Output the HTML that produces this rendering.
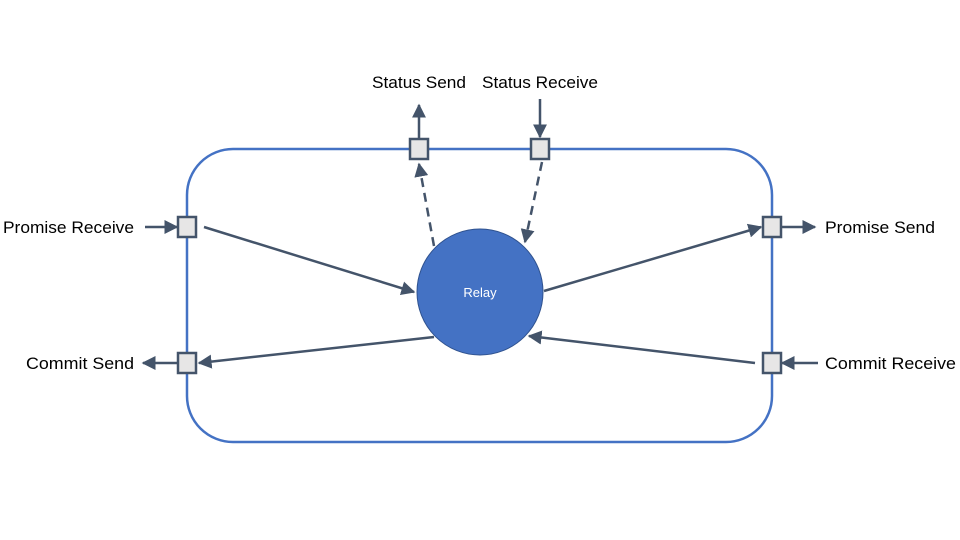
<!DOCTYPE html>
<html><head><style>body{margin:0;background:#fff}svg{display:block}text{font-family:"Liberation Sans",sans-serif}</style></head>
<body>
<svg width="960" height="540" viewBox="0 0 960 540">
<defs>
<marker id="b" viewBox="0 0 10 10" refX="9" refY="5" markerWidth="14" markerHeight="14" orient="auto" markerUnits="userSpaceOnUse"><path d="M0,0L10,5L0,10z" fill="#44546A"/></marker></defs>
<rect x="187" y="149" width="585" height="293" rx="46" fill="none" stroke="#4472C4" stroke-width="2.5"/>
<g stroke="#44546A" stroke-width="2.5" fill="none" marker-end="url(#b)">
<line x1="204" y1="227" x2="414" y2="292"/>
<line x1="544" y1="291" x2="761" y2="227"/>
<line x1="434" y1="337" x2="199" y2="363"/>
<line x1="755" y1="363" x2="529" y2="336"/>
<line x1="434" y1="246" x2="419" y2="164" stroke-dasharray="9,6"/>
<line x1="542" y1="162" x2="525" y2="242" stroke-dasharray="9,6"/>
<line x1="145" y1="227" x2="177" y2="227"/>
<line x1="781" y1="227" x2="815" y2="227"/>
<line x1="178" y1="363" x2="143" y2="363"/>
<line x1="818" y1="363" x2="782" y2="363"/>
<line x1="419" y1="139" x2="419" y2="105"/>
<line x1="540" y1="99" x2="540" y2="137"/>
</g>
<circle cx="480" cy="292" r="63" fill="#4472C4" stroke="#2F528F" stroke-width="1"/>
<text x="480" y="297" font-size="13" fill="#fff" text-anchor="middle">Relay</text>
<g fill="#E7E6E6" stroke="#44546A" stroke-width="2.5">
<rect x="178" y="217" width="18" height="20"/>
<rect x="178" y="353" width="18" height="20"/>
<rect x="763" y="217" width="18" height="20"/>
<rect x="763" y="353" width="18" height="20"/>
<rect x="410" y="139" width="18" height="20"/>
<rect x="531" y="139" width="18" height="20"/>
</g>
<g font-size="17" fill="#000" lengthAdjust="spacingAndGlyphs">
<text x="3" y="233" textLength="131" lengthAdjust="spacingAndGlyphs">Promise Receive</text>
<text x="26" y="369" textLength="108" lengthAdjust="spacingAndGlyphs">Commit Send</text>
<text x="825" y="233" textLength="110" lengthAdjust="spacingAndGlyphs">Promise Send</text>
<text x="825" y="369" textLength="131" lengthAdjust="spacingAndGlyphs">Commit Receive</text>
<text x="372" y="88" textLength="94" lengthAdjust="spacingAndGlyphs">Status Send</text>
<text x="482" y="88" textLength="116" lengthAdjust="spacingAndGlyphs">Status Receive</text>
</g>
</svg>
</body></html>
